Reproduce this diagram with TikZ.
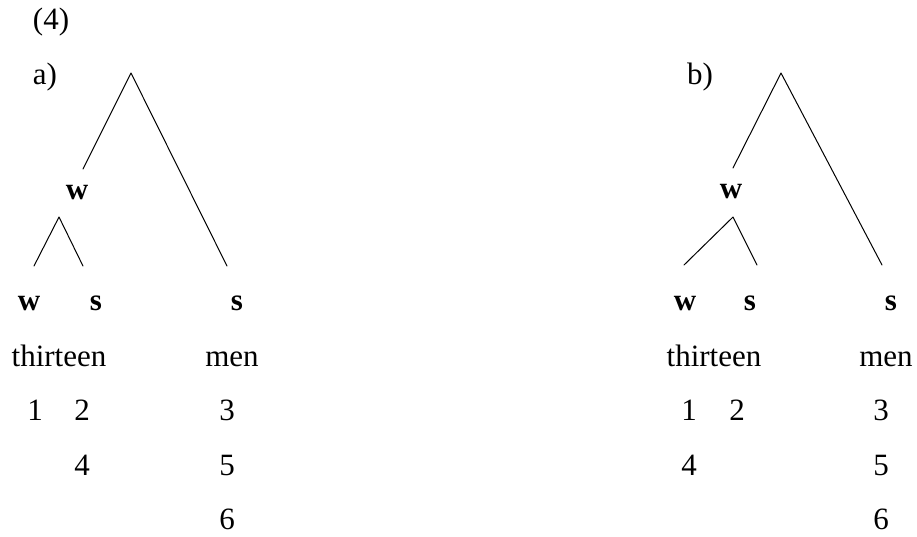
\documentclass[tikz,border=0pt]{standalone}
\usepackage{fontspec}
\setmainfont{Liberation Serif}
\begin{document}
\begin{tikzpicture}[x=1pt, y=-1pt, line join=round, line cap=round,
	every node/.style={font=\fontsize{31}{37}\selectfont, inner sep=0pt, anchor=base},
	lab/.style={font=\fontsize{31}{37}\selectfont\bfseries},
	branch/.style={line width=1pt}]
	
	\useasboundingbox (0,0) rectangle (917,536);
	
	\node (num) at (51,29) {(4)};
	
	% tree a)
	\node (tagA) at (45,84) {a)};
	\coordinate (apexA) at (131,73);
	\coordinate (leftA) at (83,169);
	\coordinate (rightA) at (227,266);
	\coordinate (subA) at (59,217);
	\coordinate (subleftA) at (34,266);
	\coordinate (subrightA) at (83,266);
	
	\draw[branch] (leftA) -- (apexA) -- (rightA);
	\draw[branch] (subleftA) -- (subA) -- (subrightA);
	
	\node[lab] (wA) at (77,199) {w};
	\node[lab] (wwA) at (29,310) {w};
	\node[lab] (wsA) at (96,310) {s};
	\node[lab] (sA) at (237,310) {s};
	
	\node (thirteenA) at (59,366) {thirteen};
	\node (menA) at (232,366) {men};
	\node (oneA) at (35,420) {1};
	\node (twoA) at (82,420) {2};
	\node (threeA) at (227,420) {3};
	\node (fourA) at (82,475) {4};
	\node (fiveA) at (227,475) {5};
	\node (sixA) at (227,529) {6};
	
	% tree b)
	\node (tagB) at (700,84) {b)};
	\coordinate (apexB) at (781,73);
	\coordinate (leftB) at (733,168);
	\coordinate (rightB) at (882,265);
	\coordinate (subB) at (733,217);
	\coordinate (subleftB) at (684,265);
	\coordinate (subrightB) at (757,265);
	
	\draw[branch] (leftB) -- (apexB) -- (rightB);
	\draw[branch] (subleftB) -- (subB) -- (subrightB);
	
	\node[lab] (wB) at (731,198) {w};
	\node[lab] (wwB) at (685,310) {w};
	\node[lab] (wsB) at (750,310) {s};
	\node[lab] (sB) at (891,310) {s};
	
	\node (thirteenB) at (714,366) {thirteen};
	\node (menB) at (886,366) {men};
	\node (oneB) at (689,420) {1};
	\node (twoB) at (737,420) {2};
	\node (threeB) at (881,420) {3};
	\node (fourB) at (689,475) {4};
	\node (fiveB) at (881,475) {5};
	\node (sixB) at (881,529) {6};
	
\end{tikzpicture}
\end{document}
